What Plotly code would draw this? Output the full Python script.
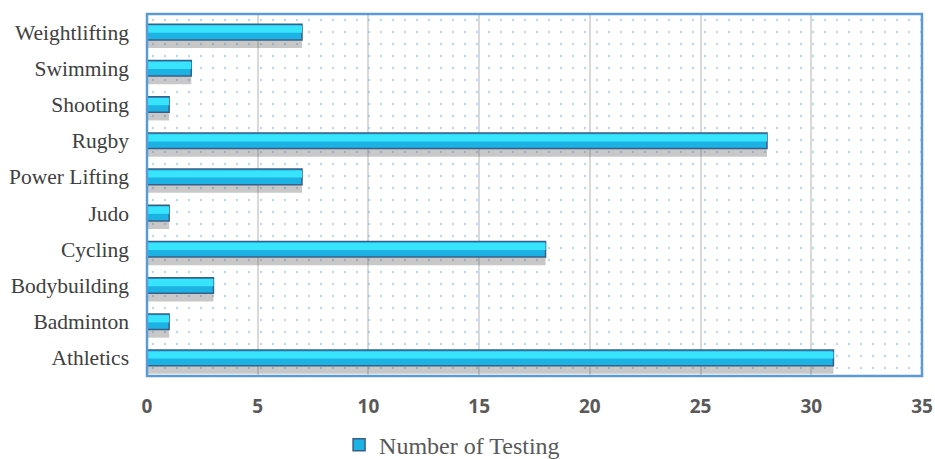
import plotly.graph_objects as go

categories = ["Athletics", "Badminton", "Bodybuilding", "Cycling", "Judo",
              "Power Lifting", "Rugby", "Shooting", "Swimming", "Weightlifting"]
values = [31, 1, 3, 18, 1, 7, 28, 1, 2, 7]
series_name = "Number of Testing"
x_ticks = [0, 5, 10, 15, 20, 25, 30, 35]

fig = go.Figure()

# dotted background pattern (on hidden numeric axis, drawn beneath the bars)
fig.add_trace(go.Scatter(
    x=[0, 35, 35, 0, 0], y=[0, 0, 1, 1, 0], xaxis="x", yaxis="y",
    mode="none", fill="toself", fillcolor="rgba(0,0,0,0)",
    fillpattern=dict(shape=".", size=12, solidity=0.03, fgcolor="#7AAEE6",
                     bgcolor="rgba(0,0,0,0)"),
    showlegend=False, hoverinfo="skip"))

# shadow
fig.add_trace(go.Bar(
    y=categories, x=values, orientation="h", width=0.34, offset=-0.44, yaxis="y2",
    marker=dict(color="rgba(110,110,110,0.38)", line=dict(width=0)),
    showlegend=False, hoverinfo="skip"))

# main bar
fig.add_trace(go.Bar(
    y=categories, x=values, orientation="h", name=series_name, width=0.43, offset=-0.215,
    yaxis="y2",
    marker=dict(color="#1DB2E4", line=dict(color="#3A5F86", width=1.5))))

# top highlight of bar
fig.add_trace(go.Bar(
    y=categories, x=values, orientation="h", width=0.2, offset=-0.02, yaxis="y2",
    marker=dict(color="#38E4FC", line=dict(width=0)),
    showlegend=False, hoverinfo="skip"))

fig.update_layout(
    width=935, height=459,
    margin=dict(l=147, r=13, t=14, b=83),
    paper_bgcolor="white", plot_bgcolor="white",
    barmode="overlay",
    xaxis=dict(range=[0, 35], tickvals=x_ticks, showgrid=True, gridcolor="#D9D9D9", gridwidth=2,
               zeroline=False, ticklabelstandoff=17, automargin=False,
               tickfont=dict(family="Open Sans", size=19, color="#595959", weight="bold")),
    yaxis=dict(range=[0, 1], visible=False, automargin=False),
    yaxis2=dict(categoryorder="array", categoryarray=categories, range=[-0.5, 9.5],
                overlaying="y", side="left", automargin=False,
                showgrid=False, zeroline=False, ticks="", ticklabelstandoff=17,
                tickfont=dict(family="Liberation Serif", size=21.5, color="#404040")),
    legend=dict(orientation="h", xref="container", x=0.4835, xanchor="center",
                yref="container", y=0.03, yanchor="middle",
                font=dict(family="Liberation Serif", size=24, color="#595959"),
                itemwidth=30),
    shapes=[dict(type="rect", xref="paper", yref="paper", x0=0, x1=1, y0=0, y1=1,
                 line=dict(color="#5B9BD5", width=2.5), layer="above")],
)

fig.write_html("out.html", config={"displayModeBar": False},
               post_script="document.body.style.margin='0';")
